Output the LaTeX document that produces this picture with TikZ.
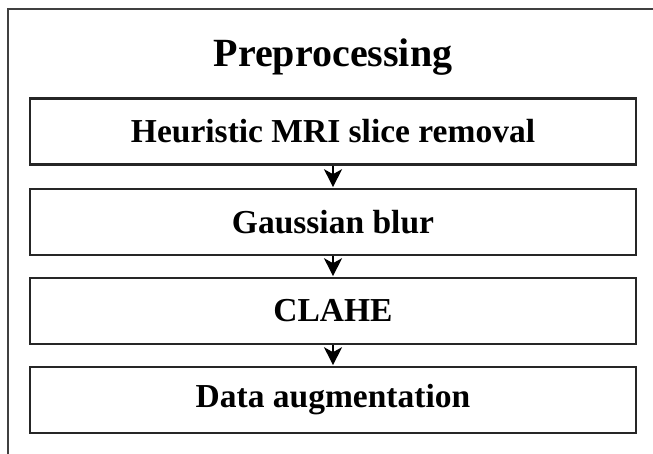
\documentclass[tikz,border=0pt]{standalone}
\usepackage{fontspec}
\setmainfont{Liberation Serif}
\usetikzlibrary{arrows.meta}
\begin{document}
\begin{tikzpicture}[x=1pt,y=-1pt,
  stagebox/.style={draw=black!85, line width=2.6pt, minimum width=606pt,
    minimum height=66pt, inner sep=0pt, font=\bfseries\fontsize{33.5}{36}\selectfont},
  flowarrow/.style={draw=black, line width=1.6pt,
    -{Stealth[length=18pt,width=18pt,inset=5pt]}, shorten >=0.5pt}]
  \useasboundingbox (0,0) rectangle (653,454);
  % open outer frame: top and left edges only
  \draw[black!75, line width=2.6pt] (8,454) -- (8,9) -- (653,9);
  \node[font=\bfseries\fontsize{40}{44}\selectfont] (title) at (333,57) {Preprocessing};
  \node[stagebox] (s1) at (333,131.5) {Heuristic MRI slice removal};
  \node[stagebox] (s2) at (333,222) {Gaussian blur};
  \node[stagebox] (s3) at (333,311) {CLAHE};
  \node[stagebox] (s4) at (333,400) {Data augmentation};
  \draw[flowarrow] (s1.south) -- (s2.north);
  \draw[flowarrow] (s2.south) -- (s3.north);
  \draw[flowarrow] (s3.south) -- (s4.north);
\end{tikzpicture}
\end{document}
